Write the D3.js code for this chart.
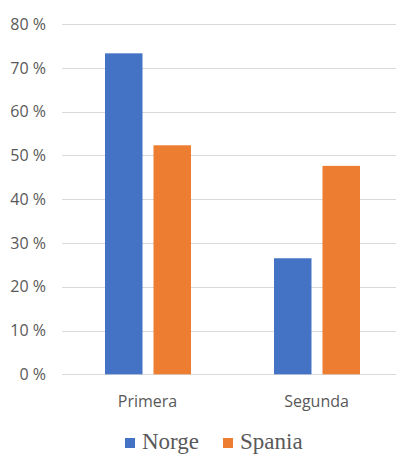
<!DOCTYPE html>
<html>
<head>
<meta charset="utf-8">
<script src="https://cdn.jsdelivr.net/npm/d3@7"></script>
<style>
  body { margin: 0; background: #fff; }
  svg { display: block; }
  .legend-text { font-family: "Liberation Serif", "Times New Roman", "DejaVu Serif", serif; }
</style>
</head>
<body>
<div id="chart"></div>
<script>
// data
const categories = ['Primera', 'Segunda']
const series = ['Norge', 'Spania']
const norge = [73.3, 26.5]
const spania = [52.3, 47.6]
const yTicks = [0, 10, 20, 30, 40, 50, 60, 70, 80]

const colors = { Norge: '#4472C4', Spania: '#ED7D31' }

const width = 396, height = 454
const plot = { left: 63.5, right: 401.5, top: 24, bottom: 374.3 }

const svg = d3.select('#chart').append('svg')
    .attr('width', width)
    .attr('height', height)

const y = d3.scaleLinear().domain([0, 80]).range([plot.bottom, plot.top])

const x0 = d3.scaleBand().domain(categories).range([plot.left, plot.right])
const x1 = d3.scaleBand().domain(series)
    .range([41.5, 127.5])
    .paddingInner(0.227)

// gridlines
svg.append('g')
    .selectAll('line')
    .data(yTicks)
    .join('line')
    .attr('x1', 62)
    .attr('x2', width)
    .attr('y1', d => Math.round(y(d)) + 0.5)
    .attr('y2', d => Math.round(y(d)) + 0.5)
    .attr('stroke', '#d9d9d9')
    .attr('stroke-width', 1)

// y labels
svg.append('g')
    .selectAll('text')
    .data(yTicks)
    .join('text')
    .attr('x', 46)
    .attr('y', d => y(d))
    .attr('dy', '0.36em')
    .attr('text-anchor', 'end')
    .attr('font-family', 'Open Sans, sans-serif')
    .attr('font-size', 16)
    .attr('fill', '#595959')
    .text(d => d + ' %')

// bars
const rows = categories.map((c, i) => ({ cat: c, vals: [
    { key: 'Norge', v: norge[i] },
    { key: 'Spania', v: spania[i] }
] }))

svg.append('g')
    .selectAll('g')
    .data(rows)
    .join('g')
    .attr('transform', d => 'translate(' + x0(d.cat) + ',0)')
    .selectAll('rect')
    .data(d => d.vals)
    .join('rect')
    .attr('x', d => x1(d.key))
    .attr('y', d => y(d.v))
    .attr('width', x1.bandwidth())
    .attr('height', d => y(0) - y(d.v))
    .attr('fill', d => colors[d.key])

// category labels
svg.append('g')
    .selectAll('text')
    .data(categories)
    .join('text')
    .attr('x', d => x0(d) + x0.bandwidth() / 2 - 0.5)
    .attr('y', 407)
    .attr('text-anchor', 'middle')
    .attr('font-family', 'Open Sans, sans-serif')
    .attr('font-size', 16)
    .attr('fill', '#595959')
    .text(d => d)

// legend
const legendX = [125, 223]
const legend = svg.append('g')
    .selectAll('g')
    .data(series)
    .join('g')
    .attr('transform', (d, i) => 'translate(' + legendX[i] + ',0)')

legend.append('rect')
    .attr('x', 0)
    .attr('y', 438)
    .attr('width', 10)
    .attr('height', 10)
    .attr('fill', d => colors[d])

legend.append('text')
    .attr('class', 'legend-text')
    .attr('x', 17)
    .attr('y', 449)
    .attr('font-size', 23)
    .attr('fill', '#595959')
    .text(d => d)
</script>
</body>
</html>
